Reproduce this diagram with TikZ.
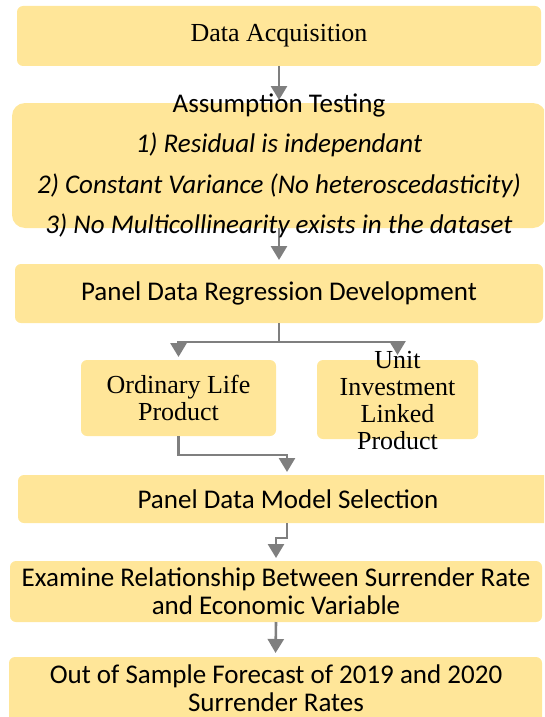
\documentclass[tikz,border=0pt]{standalone}
\usepackage{fontspec}
\setmainfont{Liberation Serif}
\newfontfamily\calib{Carlito}
\usetikzlibrary{arrows.meta}
\definecolor{boxfill}{HTML}{FFE699}
\definecolor{arrgray}{HTML}{7F7F7F}
\begin{document}
\begin{tikzpicture}[x=1pt,y=-1pt,
  bx/.style={fill=boxfill, draw=none, rounded corners=6pt, inner sep=0pt, outer sep=0pt, anchor=north west},
  serif/.style={font=\fontsize{26}{27}\selectfont, align=center, inner sep=0pt},
  sans/.style={font=\calib\fontsize{27}{28}\selectfont, align=center, inner sep=0pt},
  sansit/.style={font=\calib\itshape\fontsize{27}{28}\selectfont, inner sep=0pt, anchor=base},
  arr/.style={draw=arrgray, line width=2.6pt, -{Triangle[width=16pt,length=14pt]}}
]
\useasboundingbox (0,0) rectangle (544,717);
\clip (0,0) rectangle (544,717);
% boxes
\node[bx, minimum width=524pt, minimum height=60pt] (b1) at (17,6) {};
\node[bx, rounded corners=13pt, minimum width=534pt, minimum height=125pt] (b2) at (12,103) {};
\node[bx, minimum width=528pt, minimum height=59pt] (b3) at (15,264) {};
\node[bx, minimum width=195pt, minimum height=76pt] (b4) at (81,360) {};
\node[bx, minimum width=161pt, minimum height=79pt] (b5) at (317,360) {};
\node[bx, minimum width=540pt, minimum height=48pt] (b6) at (18,475) {};
\node[bx, minimum width=532pt, minimum height=61pt] (b7) at (10,561) {};
\node[bx, minimum width=533pt, minimum height=80pt] (b8) at (9,657) {};
% connectors
\draw[arr, shorten >=3pt] (b1.south) -- (b2.north);
\draw[arr, shorten >=4pt] (b2.south) -- (b3.north);
\draw[draw=arrgray, line width=2.6pt] (b3.south) -- ++(0,19) coordinate (j1);
\draw[arr, shorten >=3pt] (j1) -| (b4.north);
\draw[arr, shorten >=5pt] (j1) -| (b5.north);
\draw[arr, shorten >=3pt] (b4.south) -- ++(0,19) -| ([xshift=-1pt]b6.north);
\draw[arr, shorten >=3pt] ([xshift=-1pt]b6.south) -- ++(0,15) -| (b7.north);
\draw[arr, shorten >=4pt] (b7.south) -- (b8.north);
% texts
\node[serif] (t1) at (b1.center) {Data Acquisition};
\node[sansit, font=\calib\fontsize{27}{28}\selectfont] (t2a) at (279,112) {Assumption Testing};
\node[sansit] (t2b) at (279,152) {1) Residual is independant};
\node[sansit] (t2c) at (279,193) {2) Constant Variance (No heteroscedasticity)};
\node[sansit] (t2d) at (279,233) {3) No Multicollinearity exists in the dataset};
\node[sans] (t3) at (b3.center) {Panel Data Regression Development};
\node[serif] (t4) at (b4.center) {Ordinary Life\\Product};
\node[serif] (t5) at (397.5,401) {Unit\\Investment\\Linked\\Product};
\node[sans] (t6) at (b6.center) {Panel Data Model Selection};
\node[sans] (t7) at (b7.center) {Examine Relationship Between Surrender Rate\\and Economic Variable};
\node[sans] (t8) at (276,688.5) {Out of Sample Forecast of 2019 and 2020\\Surrender Rates};
\end{tikzpicture}
\end{document}
